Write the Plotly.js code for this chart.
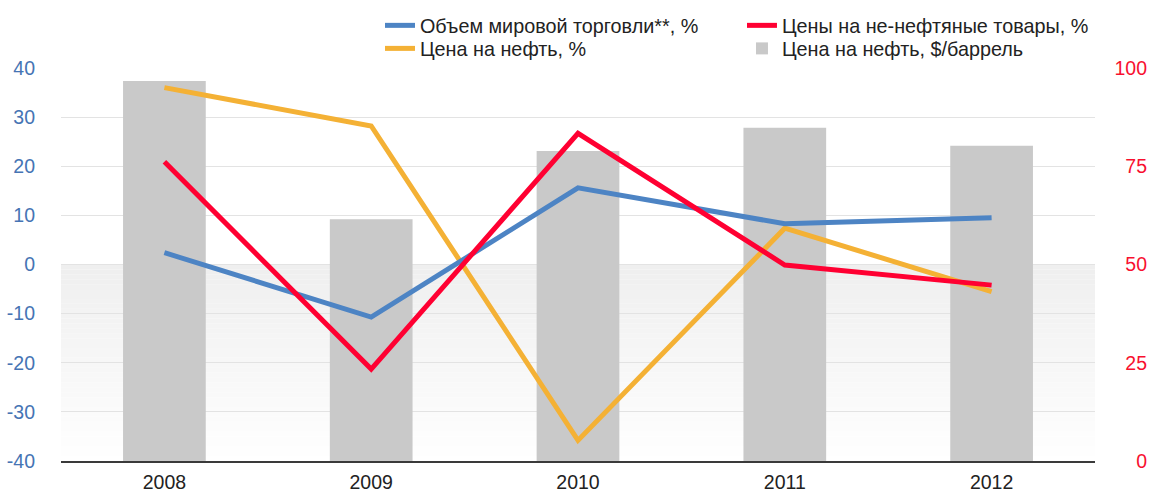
<!DOCTYPE html>
<html>
<head>
<meta charset="utf-8">
<script src="https://cdn.plot.ly/plotly-3.0.1.min.js"></script>
<style>html,body{margin:0;padding:0;background:#fff;}#chart{width:1153px;height:492px;}</style>
</head>
<body>
<div id="chart"></div>
<script>
const years = ["2008", "2009", "2010", "2011", "2012"];
const tradeVolume = [2.4, -10.7, 15.6, 8.3, 9.5];
const nonOilPrices = [20.9, -21.3, 26.7, -0.1, -4.2];
const oilPricePct = [36.0, 28.2, -35.8, 7.4, -5.5];
const oilPriceUsd = [96.7, 61.5, 78.9, 84.8, 80.2];

const leftTicks = [-40, -30, -20, -10, 0, 10, 20, 30, 40];
const leftTickText = ["-40", "-30", "-20", "-10", "0", "10", "20", "30", "40"];
const rightTicks = [0, 25, 50, 75, 100];
const rightTickText = ["0", "25", "50", "75", "100"];

const names = {
  trade: "Объем мировой торговли**, %",
  nonOil: "Цены на не-нефтяные товары, %",
  oilPct: "Цена на нефть, %",
  oilUsd: "Цена на нефть, $/баррель"
};

const FONT = "Liberation Sans, Arial, Helvetica, sans-serif";

const traces = [
  {type: "bar", x: years, y: oilPriceUsd, name: names.oilUsd, yaxis: "y",
   marker: {color: "#c9c9c9"}, legend: "legend4"},
  {type: "scatter", mode: "lines", x: years, y: oilPricePct, name: names.oilPct, yaxis: "y2",
   line: {color: "#f4b135", width: 5}, legend: "legend3"},
  {type: "scatter", mode: "lines", x: years, y: tradeVolume, name: names.trade, yaxis: "y2",
   line: {color: "#4d84c4", width: 5}, legend: "legend"},
  {type: "scatter", mode: "lines", x: years, y: nonOilPrices, name: names.nonOil, yaxis: "y2",
   line: {color: "#ff0032", width: 5}, legend: "legend2"}
];

// gradient background below zero (decoration)
const shapes = [];
const steps = 40;
for (let i = 0; i < steps; i++) {
  const t = i / steps;
  const c = Math.round(239 + (255 - 239) * t);
  shapes.push({type: "rect", layer: "below", xref: "x domain", yref: "y2",
    x0: 0, x1: 1, y0: -40 * i / steps, y1: -40 * (i + 1) / steps,
    fillcolor: `rgb(${c},${c},${c})`, line: {width: 0}});
}

const legendFont = {family: FONT, size: 19.8, color: "#222"};
const col1 = 0.2921, col2 = 0.6236, row1 = 1.1578, row2 = 1.0992;
function leg(x, y) {
  return {orientation: "v", x: x, xanchor: "left", y: y, yanchor: "top",
    font: legendFont, bgcolor: "rgba(0,0,0,0)", itemwidth: 30};
}

const layout = {
  width: 1153, height: 492,
  margin: {l: 61, r: 0, t: 68, b: 31},
  paper_bgcolor: "#fff", plot_bgcolor: "rgba(0,0,0,0)",
  font: {family: FONT, size: 19.5, color: "#222"},
  showlegend: true,
  legend: leg(col1, row1),
  legend2: leg(col2, row1),
  legend3: leg(col1, row2),
  legend4: leg(col2, row2),
  bargap: 0.6,
  xaxis: {type: "category", domain: [0, 1034 / 1092], anchor: "y",
    showline: true, linecolor: "#3a3a3a", linewidth: 2, ticks: "", showgrid: false,
    tickfont: {family: FONT, size: 19.5, color: "#222"}, ticklabelstandoff: 3, zeroline: false},
  yaxis: {range: [0, 100], tickvals: rightTicks, ticktext: rightTickText,
    anchor: "free", position: 1, side: "left",
    showgrid: false, zeroline: false, showline: false, ticks: "",
    tickfont: {family: FONT, size: 19.5, color: "#f8102f"}, ticklabelstandoff: 6},
  yaxis2: {range: [-40, 40], tickvals: leftTicks, ticktext: leftTickText,
    overlaying: "y", anchor: "x", side: "left",
    showgrid: true, gridcolor: "#e3e3e3", gridwidth: 1, zeroline: false, showline: false, ticks: "",
    tickfont: {family: FONT, size: 19.5, color: "#4674b4"}, ticklabelstandoff: 25},
  shapes: shapes
};

Plotly.newPlot("chart", traces, layout, {displayModeBar: false, staticPlot: true});
</script>
</body>
</html>
